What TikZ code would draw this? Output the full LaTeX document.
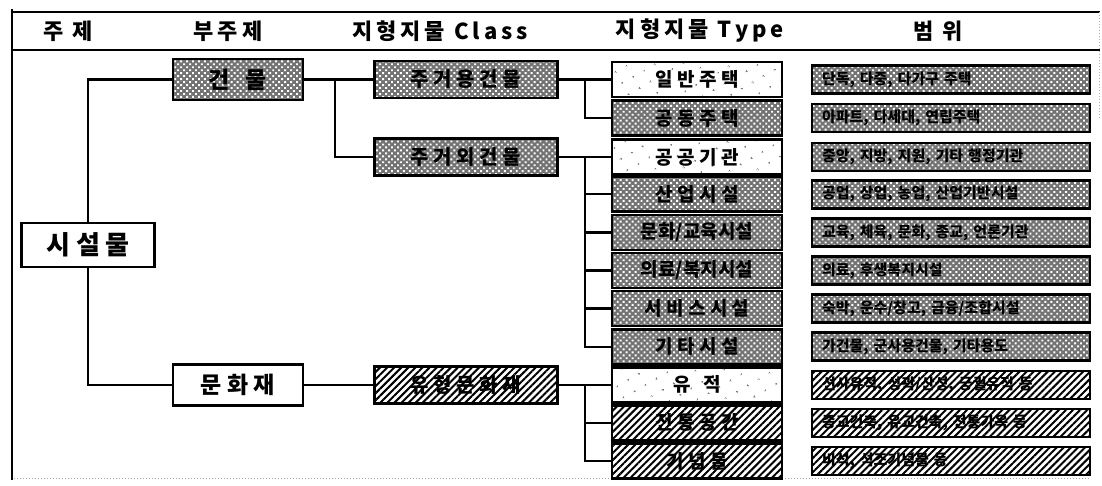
\documentclass[tikz,border=0pt]{standalone}
\usepackage{fontspec}
\setmainfont{Noto Sans CJK KR}
\usetikzlibrary{patterns,patterns.meta}
\begin{document}
\begin{tikzpicture}[x=1pt,y=-1pt,
  conn/.style={line width=2.4pt},
  rule/.style={line width=2.4pt},
  hdr/.style={font=\bfseries\fontsize{22}{22}\selectfont\addfontfeature{LetterSpace=18}, inner sep=0pt},
  basebox/.style={draw, line width=2.6pt, inner sep=0pt, align=center},
  plainbox/.style={basebox, fill=white},
  dotbox/.style={basebox, preaction={fill=black!55}, pattern={Dots[distance=4.2pt,radius=1.35pt,angle=45]}, pattern color=white},
  speckbox/.style={basebox, preaction={fill=white}, pattern={Dots[distance=13pt,radius=1pt,angle=30]}, pattern color=black!60},
  hatchbox/.style={basebox, preaction={fill=white}, pattern={Lines[angle=45,distance=5pt,line width=2pt]}, pattern color=black},
  subj/.style={minimum width=130pt, minimum height=41pt, font=\bfseries\fontsize{23}{23}\selectfont},
  cls/.style={minimum width=183pt, minimum height=37pt, font=\bfseries\fontsize{20}{20}\selectfont},
  typ/.style={minimum width=170pt, minimum height=35pt, font=\bfseries\fontsize{19}{19}\selectfont},
  scp/.style={minimum width=278pt, minimum height=28pt, text width=258pt, align=left, font=\bfseries\fontsize{15}{15}\selectfont},
]
\useasboundingbox (0,0) rectangle (1102,486);
\fill[white] (0,0) rectangle (1102,486);

% frame and header
\draw[rule] (12,12) -- (1100,12);
\draw[rule] (12,50) -- (1100,50);
\draw[line width=2.6pt] (12,9) -- (12,480);
\draw[black!35, line width=1pt, dotted] (14,478) -- (1090,478);
\draw[black!30, line width=1pt, dotted] (1099,12) -- (1099,120);

\node[hdr] (h1) at (68,31) {주 제};
\node[hdr] (h2) at (228,31) {부주제};
\node[hdr] (h3) at (440,31) {지형지물 Class};
\node[hdr] (h4) at (700,31) {지형지물 Type};
\node[hdr] (h5) at (938,31) {범 위};

% subject
\node[plainbox, minimum width=133pt, minimum height=44pt, font=\bfseries\fontsize{26}{26}\selectfont] (sisul) at (88,245) {시 설 물};

% sub-subjects
\node[dotbox, subj] (gunmul) at (238,79.5) {건 \ \ 물};
\node[plainbox, subj] (munhwa) at (238,384.8) {문 화 재};

% classes
\node[dotbox, cls] (jgy) at (466,79.5) {주 거 용 건 물};
\node[dotbox, cls] (jgo) at (466,157) {주 거 외 건 물};
\node[hatchbox, cls] (yhm) at (466,384.8) {유 형 문 화 재};

% types
\node[speckbox, typ] (t0) at (697,79.5) {일 반 주 택};
\node[dotbox, typ] (t1) at (697,118.1) {공 동 주 택};
\node[speckbox, typ] (t2) at (697,157) {공 공 기 관};
\node[dotbox, typ] (t3) at (697,194.3) {산 업 시 설};
\node[dotbox, typ] (t4) at (697,232.4) {문화/교육시설};
\node[dotbox, typ] (t5) at (697,270.5) {의료/복지시설};
\node[dotbox, typ] (t6) at (697,308.6) {서 비 스 시 설};
\node[dotbox, typ] (t7) at (697,346.7) {기 타 시 설};
\node[speckbox, typ] (t8) at (697,384.8) {유 \ \ 적};
\node[hatchbox, typ] (t9) at (697,422.9) {전 통 공 간};
\node[hatchbox, typ] (t10) at (697,461) {기 념 물};

% scopes
\node[dotbox, scp] (s0) at (951,79.5) {단독, 다중, 다가구 주택};
\node[dotbox, scp] (s1) at (951,118.1) {아파트, 다세대, 연립주택};
\node[dotbox, scp] (s2) at (951,157) {중앙, 지방, 지원, 기타 행정기관};
\node[dotbox, scp] (s3) at (951,194.3) {공업, 상업, 농업, 산업기반시설};
\node[dotbox, scp] (s4) at (951,232.4) {교육, 체육, 문화, 종교, 언론기관};
\node[dotbox, scp] (s5) at (951,270.5) {의료, 후생복지시설};
\node[dotbox, scp] (s6) at (951,308.6) {숙박, 운수/창고, 금융/조합시설};
\node[dotbox, scp] (s7) at (951,346.7) {가건물, 군사용건물, 기타용도};
\node[hatchbox, scp] (s8) at (951,384.8) {선사유적, 성곽/산성, 궁궐유적 등};
\node[hatchbox, scp] (s9) at (951,422.9) {종교건축, 유교건축, 전통가옥 등};
\node[hatchbox, scp] (s10) at (951,461) {비석, 석조기념물 등};

% branch points
\coordinate (bA) at (335,79.5);
\coordinate (bB) at (585,79.5);
\coordinate (bC) at (585,157);
\coordinate (bD) at (585,384.8);

% connectors
\draw[conn] (sisul.north) |- (gunmul.west);
\draw[conn] (sisul.south) |- (munhwa.west);
\draw[conn] (gunmul.east) -- (jgy.west);
\draw[conn] (bA) |- (jgo.west);
\draw[conn] (munhwa.east) -- (yhm.west);
\draw[conn] (jgy.east) -- (t0.west);
\draw[conn] (bB) |- (t1.west);
\draw[conn] (jgo.east) -- (t2.west);
\foreach \i in {3,...,7} { \draw[conn] (bC) |- (t\i.west); }
\draw[conn] (yhm.east) -- (t8.west);
\draw[conn] (bD) |- (t9.west);
\draw[conn] (bD) |- (t10.west);
\end{tikzpicture}
\end{document}
